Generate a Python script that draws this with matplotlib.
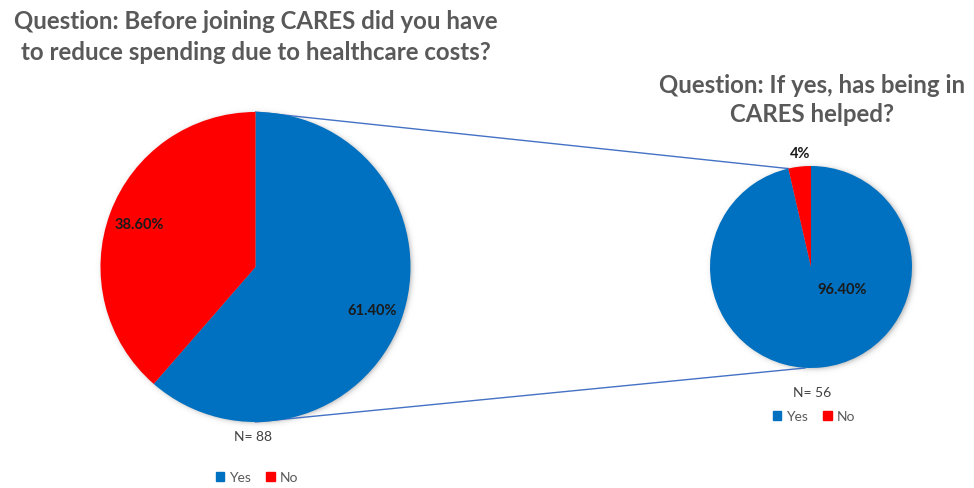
import numpy as np
import matplotlib
matplotlib.use("Agg")
import matplotlib.pyplot as plt
from matplotlib.patches import Patch

# survey answers
answers = ["Yes", "No"]
reduce_spending = [61.4, 38.6]   # share of all members, N=88
cares_helped = [96.4, 3.6]       # share of "Yes" group, N=56
n_total = 88
n_yes = 56

titles = [
    "Question: Before joining CARES did you have\nto reduce spending due to healthcare costs?",
    "Question: If yes, has being in\nCARES helped?",
]

BLUE = "#0070C0"
RED = "#FF0000"
GREY = "#595959"

W, H = 974, 489
plt.rcParams["font.family"] = ["Lato", "DejaVu Sans"]

fig = plt.figure(figsize=(W / 100, H / 100), dpi=100)
ax = fig.add_axes([0, 0, 1, 1])


def Y(y):
    # pixel rows counted from the top
    return H - y


big_c, big_r = (255.5, Y(268)), 155
small_c, small_r = (811, Y(268)), 101


def shadow(center, r, soft=3.0, dx=1.5, dy=-1.5, strength=0.45):
    cx, cy = center[0] + dx, center[1] + dy
    pad = r + 12
    xs = np.linspace(cx - pad, cx + pad, 400)
    ys = np.linspace(cy - pad, cy + pad, 400)
    gx, gy = np.meshgrid(xs, ys)
    d = np.hypot(gx - cx, gy - cy)
    a = strength * 0.5 * (1 - np.tanh((d - r) / soft))
    img = np.zeros((400, 400, 4))
    img[..., :3] = 0.35
    img[..., 3] = a
    ax.imshow(img, extent=(cx - pad, cx + pad, cy - pad, cy + pad),
              origin="lower", zorder=0, interpolation="bilinear")


shadow(big_c, big_r)
shadow(small_c, small_r)

# connector lines between the two pies
ang = np.deg2rad(90 + cares_helped[1] / 100 * 360)
top_pt = (small_c[0] + small_r * np.cos(ang), small_c[1] + small_r * np.sin(ang))
ax.plot([big_c[0], top_pt[0]], [big_c[1] + big_r, top_pt[1]],
        color="#4472C4", lw=1.0, zorder=0.5)
ax.plot([big_c[0], small_c[0] - 6], [big_c[1] - big_r, small_c[1] - small_r],
        color="#4472C4", lw=1.0, zorder=0.5)

label_style = dict(fontsize=10.5, fontweight="bold", color="#1a1a1a")

wedges, _, autotexts = ax.pie(
    reduce_spending, colors=[BLUE, RED], startangle=90, counterclock=False,
    center=big_c, radius=big_r, autopct=lambda p: f"{p:.2f}%", pctdistance=0.8,
    textprops=label_style, wedgeprops=dict(linewidth=0), frame=True,
)
for t in autotexts:
    t.set_zorder(5)

ax.pie(cares_helped, colors=[BLUE, RED], startangle=90, counterclock=False,
       center=small_c, radius=small_r, wedgeprops=dict(linewidth=0), frame=True)

ax.text(842, Y(290), f"{cares_helped[0]:.2f}%", ha="center", va="center",
        zorder=5, **label_style)
ax.text(800, Y(154), f"{cares_helped[1]:.0f}%", ha="center", va="center",
        zorder=5, **label_style)

# titles
ax.text(256, Y(37), titles[0], ha="center", va="center", fontsize=17.3,
        fontweight="bold", color=GREY, linespacing=1.45)
ax.text(812, Y(100), titles[1], ha="center", va="center", fontsize=17.3,
        fontweight="bold", color=GREY, linespacing=1.3)

# sample sizes
ax.text(253, Y(437), f"N= {n_total}", ha="center", va="center", fontsize=10,
        color="#404040")
ax.text(812, Y(393), f"N= {n_yes}", ha="center", va="center", fontsize=10,
        color="#404040")

handles = [Patch(color=BLUE), Patch(color=RED)]
for cx, cy in [(257, 478), (814, 417)]:
    leg = fig.legend(handles, answers, loc="center", ncol=2,
                     bbox_to_anchor=(cx / W, 1 - cy / H), frameon=False,
                     handlelength=0.6, handleheight=0.6, handletextpad=0.35,
                     columnspacing=1.1, prop=dict(size=10))
    for t in leg.get_texts():
        t.set_color(GREY)

ax.set_xlim(0, W)
ax.set_ylim(0, H)
ax.set_aspect("equal")
ax.axis("off")

fig.savefig("out.png", dpi=100, facecolor="white")
